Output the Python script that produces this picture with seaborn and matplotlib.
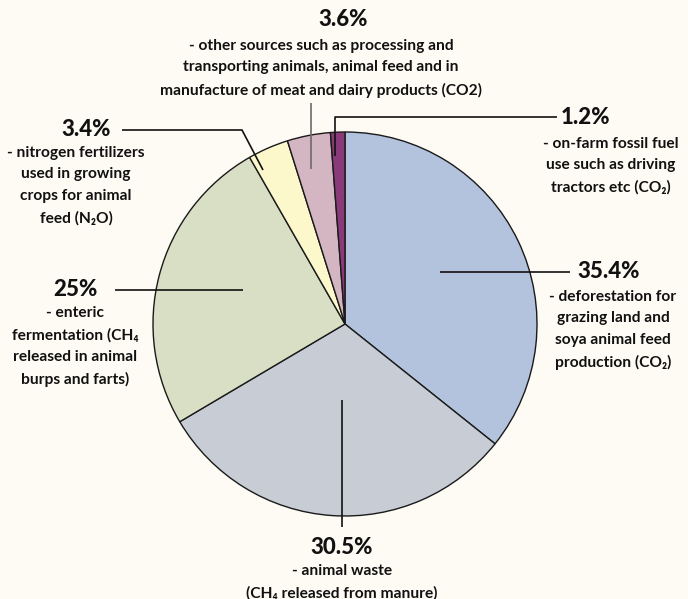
import matplotlib
matplotlib.use("Agg")
import matplotlib.pyplot as plt
import seaborn as sns

# Data (clockwise from 12 o'clock)
percents = [35.4, 30.5, 25.0, 3.4, 3.6, 1.2]
pct_labels = ["35.4%", "30.5%", "25%", "3.4%", "3.6%", "1.2%"]
descriptions = [
    "- deforestation for\ngrazing land and\nsoya animal feed\nproduction (CO\u2082)",
    "- animal waste\n(CH\u2084 released from manure)",
    "- enteric\nfermentation (CH\u2084\nreleased in animal\nburps and farts)",
    "- nitrogen fertilizers\nused in growing\ncrops for animal\nfeed (N\u2082O)",
    "- other sources such as processing and\ntransporting animals, animal feed and in\nmanufacture of meat and dairy products (CO2)",
    "- on-farm fossil fuel\nuse such as driving\ntractors etc (CO\u2082)",
]
slice_colors = ["#b3c3dd", "#c8ccd5", "#d8dfc4", "#fdf8cc", "#d3b6c1", "#8a3a78"]

sns.set_style("white")
plt.rcParams["font.family"] = ["Lato", "DejaVu Sans"]

W, H = 688, 599
BG = "#fefbf4"
fig = plt.figure(figsize=(W / 100, H / 100), dpi=100, facecolor=BG)
ax = fig.add_axes([0, 0, 1, 1])
ax.set_facecolor(BG)

def P(x, y):
    return (x, H - y)

palette = sns.color_palette(slice_colors)
cx, cy = P(345, 324)
ax.pie(percents, colors=palette, startangle=90, counterclock=False,
       center=(cx, cy), radius=192,
       wedgeprops=dict(edgecolor="#1a1a1a", linewidth=1.0))
ax.set_xlim(0, W)
ax.set_ylim(0, H)
ax.set_aspect("equal")
ax.axis("off")

pct_fs = 16
desc_fs = 11.2
dark = "#111111"

def line(pts, color=dark, lw=1.2):
    xs = [P(*p)[0] for p in pts]
    ys = [P(*p)[1] for p in pts]
    ax.plot(xs, ys, color=color, lw=lw, solid_capstyle="butt", zorder=5)

def label(i, px, py, dx, dy, ha="center"):
    ax.text(*P(px, py), pct_labels[i], fontsize=pct_fs, fontweight="black",
            ha=ha, va="center", color=dark)
    ax.text(*P(dx, dy), descriptions[i], fontsize=desc_fs, fontweight="bold",
            ha="center", va="top", color=dark, linespacing=1.68)

# 35.4%
line([(440, 272), (570, 272)])
label(0, 609, 272, 613, 290)
# 30.5%
line([(342, 400), (342, 527)])
label(1, 342, 548, 342, 564)
# 25%
line([(115, 290), (243, 290)])
label(2, 75, 290, 75, 306)
# 3.4%
line([(122, 130), (242, 130), (263, 170)])
label(3, 86, 130, 76, 146)
# 3.6%
line([(311, 103), (311, 169)], color="#6a6a6a")
label(4, 343, 20, 321, 39)
# 1.2%
line([(335, 156), (335, 117), (557, 117)])
label(5, 586, 117, 611, 137)

fig.savefig("out.png", dpi=100, facecolor=BG)
